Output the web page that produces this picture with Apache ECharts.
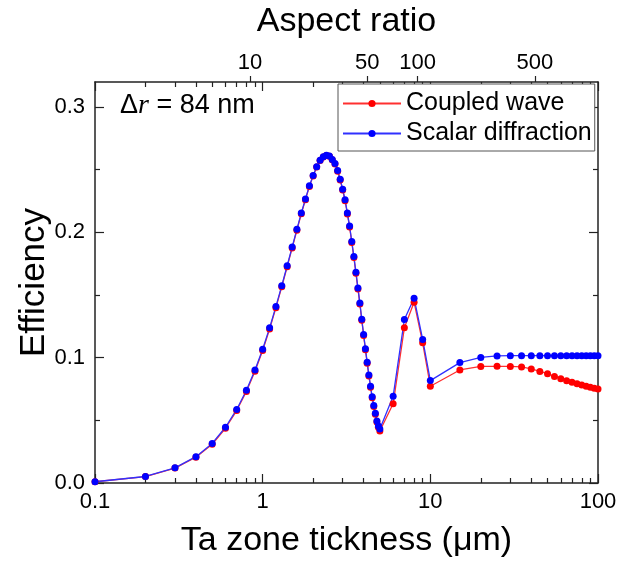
<!DOCTYPE html>
<html>
<head>
<meta charset="utf-8">
<script src="https://cdn.jsdelivr.net/npm/echarts@6/dist/echarts.min.js"></script>
<style>html,body{margin:0;padding:0;background:#fff}#c{width:622px;height:563px}</style>
</head>
<body>
<div id="c"></div>
<script>
// ---- data ----
const thickness = [0.1,0.2,0.3,0.4,0.5,0.6,0.7,0.8,0.9,1.0,
  1.1,1.2,1.3,1.4,1.5,1.6,1.7,1.8,1.9,2.0,
  2.1,2.2,2.3,2.4,2.5,2.6,2.7,2.8,2.9,3.0,
  3.1,3.2,3.3,3.4,3.5,3.6,3.7,3.8,3.9,4.0,
  4.1,4.2,4.3,4.4,4.5,4.6,4.7,4.8,4.9,5.0,
  6,7,8,9,10,
  15,20,25,30,35,40,45,50,55,60,65,70,75,80,85,90,95,100];
const scalarDiffraction = [0.0010,0.0052,0.0121,0.0210,0.0316,0.0445,0.0587,0.0740,0.0901,0.1067,
  0.1238,0.1409,0.1575,0.1734,0.1884,0.2024,0.2155,0.2267,0.2372,0.2453,
  0.2524,0.2575,0.2603,0.2615,0.2609,0.2582,0.2550,0.2493,0.2424,0.2345,
  0.2261,0.2155,0.2050,0.1927,0.1807,0.1681,0.1557,0.1436,0.1307,0.1186,
  0.1072,0.0964,0.0862,0.0772,0.0688,0.0619,0.0556,0.0495,0.0455,0.0430,
  0.0692,0.1304,0.1475,0.1146,0.0817,
  0.0961,0.1002,0.1014,0.1016,0.1016,0.1016,0.1016,0.1016,0.1016,0.1016,0.1016,0.1016,0.1016,0.1016,0.1016,0.1016,0.1016,0.1016];
const coupledWave = [0.0010,0.0051,0.0119,0.0206,0.0309,0.0437,0.0578,0.0731,0.0891,0.1057,
  0.1228,0.1399,0.1566,0.1726,0.1876,0.2017,0.2148,0.2261,0.2367,0.2449,
  0.2521,0.2573,0.2602,0.2614,0.2608,0.2580,0.2546,0.2488,0.2418,0.2338,
  0.2253,0.2147,0.2042,0.1919,0.1799,0.1673,0.1549,0.1428,0.1299,0.1178,
  0.1064,0.0956,0.0854,0.0764,0.0680,0.0611,0.0548,0.0487,0.0445,0.0415,
  0.0632,0.1238,0.1443,0.1119,0.0772,
  0.0902,0.0930,0.0931,0.0930,0.0926,0.0910,0.0890,0.0872,0.0850,0.0831,0.0815,0.0803,0.0793,0.0783,0.0773,0.0765,0.0757,0.0750];
const xTickLabels = [0.1, 1, 10, 100];
const yTickLabels = [0, 0.1, 0.2, 0.3];
const yMinorTicks = [0.05, 0.15, 0.25];
const aspectTickLabels = [10, 50, 100, 500];
const zoneWidthUm = 0.084; // Δr = 84 nm

// ---- chart ----
const FONT = '"Liberation Sans", Arial, sans-serif';
const xMinLog = Math.log10(0.1), xMaxLog = Math.log10(100);
const xMajorLog = xTickLabels.map(v => Math.log10(v));
const xMinorLog = [];
for (let d = -1; d <= 1; d++) for (let k = 2; k <= 9; k++) xMinorLog.push(Math.log10(k * Math.pow(10, d)));
const aspMin = Math.log10(0.1 / zoneWidthUm), aspMax = Math.log10(100 / zoneWidthUm);
const aspLog = aspectTickLabels.map(v => Math.log10(v));

const lineC = '#222';
const axisLineOn = {show: true, onZero: false, lineStyle: {color: lineC, width: 1.5}};
const axisLineOff = {show: false, onZero: false};
function tickAxis(pos, min, max, vals, len, showLine) {
  return {
    type: 'value', position: pos, min: min, max: max, gridIndex: 0,
    axisLine: showLine ? axisLineOn : axisLineOff,
    axisTick: {show: true, inside: true, length: len, customValues: vals, lineStyle: {color: lineC, width: 1.2}},
    axisLabel: {show: false}, splitLine: {show: false}
  };
}

const chart = echarts.init(document.getElementById('c'), null, {renderer: 'canvas'});
chart.setOption({
  animation: false,
  backgroundColor: '#fff',
  textStyle: {fontFamily: FONT},
  grid: {left: 95, right: 24, top: 80, bottom: 71, containLabel: false},
  title: {
    left: 115, top: 87,
    text: '{d|Δ}{r|r}{d| = 84 nm}',
    textStyle: {fontWeight: 'normal', rich: {
      d: {fontSize: 27, fontFamily: FONT, fontWeight: 'normal', color: '#000'},
      r: {fontSize: 28, fontFamily: '"Liberation Serif", "Times New Roman", serif', fontStyle: 'italic', fontWeight: 'normal', color: '#000'}
    }}
  },
  legend: {
    orient: 'vertical', left: 338, top: 84,
    padding: [7, 3, 5, 4], itemGap: 5, itemWidth: 58, itemHeight: 9,
    borderColor: '#555', borderWidth: 1, borderRadius: 0, backgroundColor: '#fff',
    textStyle: {fontSize: 25, color: '#000', fontFamily: FONT},
    data: ['Coupled wave', 'Scalar diffraction']
  },
  xAxis: [
    {
      type: 'log', position: 'bottom', min: 0.1, max: 100, logBase: 10,
      axisLine: axisLineOn,
      axisTick: {show: true, inside: true, length: 9, lineStyle: {color: lineC, width: 1.2}},
      axisLabel: {fontSize: 22, color: '#000', margin: 8, fontFamily: FONT,
        formatter: v => String(+(+v).toPrecision(3))},
      splitLine: {show: false}, minorTick: {show: false},
      name: 'Ta zone tickness (μm)', nameLocation: 'middle', nameGap: 41, nameMoveOverlap: false,
      nameTextStyle: {fontSize: 34, color: '#000', fontFamily: FONT}
    },
    tickAxis('bottom', xMinLog, xMaxLog, xMinorLog, 5, false),
    tickAxis('top', xMinLog, xMaxLog, xMajorLog, 9, true),
    tickAxis('top', xMinLog, xMaxLog, xMinorLog, 5, false),
    {
      type: 'value', position: 'top', min: aspMin, max: aspMax,
      axisLine: axisLineOff,
      axisTick: {show: true, inside: false, length: 6, customValues: aspLog, lineStyle: {color: lineC, width: 1.2}},
      axisLabel: {show: true, customValues: aspLog, fontSize: 22, color: '#000', margin: 8, fontFamily: FONT,
        formatter: v => String(Math.round(Math.pow(10, v)))},
      splitLine: {show: false},
      name: 'Aspect ratio', nameLocation: 'middle', nameGap: 43, nameMoveOverlap: false,
      nameTextStyle: {fontSize: 34, color: '#000', fontFamily: FONT}
    }
  ],
  yAxis: [
    {
      type: 'value', position: 'left', min: 0, max: 0.32,
      axisLine: axisLineOn,
      axisTick: {show: true, inside: true, length: 9, customValues: yTickLabels, lineStyle: {color: lineC, width: 1.2}},
      axisLabel: {customValues: yTickLabels, fontSize: 22, color: '#000', margin: 10, fontFamily: FONT,
        formatter: v => (+v).toFixed(1)},
      splitLine: {show: false},
      name: 'Efficiency', nameLocation: 'middle', nameGap: 43, nameRotate: 90, nameMoveOverlap: false,
      nameTextStyle: {fontSize: 35, color: '#000', fontFamily: FONT}
    },
    tickAxis('left', 0, 0.32, yMinorTicks, 5, false),
    tickAxis('right', 0, 0.32, yTickLabels, 9, true),
    tickAxis('right', 0, 0.32, yMinorTicks, 5, false)
  ],
  series: [
    {
      name: 'Coupled wave', type: 'line', xAxisIndex: 0, yAxisIndex: 0,
      data: thickness.map((t, i) => [t, coupledWave[i]]),
      symbol: 'circle', symbolSize: 7, showSymbol: true,
      itemStyle: {color: '#ff0000'},
      lineStyle: {color: '#ff3030', width: 1.3}
    },
    {
      name: 'Scalar diffraction', type: 'line', xAxisIndex: 0, yAxisIndex: 0,
      data: thickness.map((t, i) => [t, scalarDiffraction[i]]),
      symbol: 'circle', symbolSize: 7, showSymbol: true,
      itemStyle: {color: '#0000ff'},
      lineStyle: {color: '#3030ff', width: 1.3}
    }
  ]
});
</script>
</body>
</html>
